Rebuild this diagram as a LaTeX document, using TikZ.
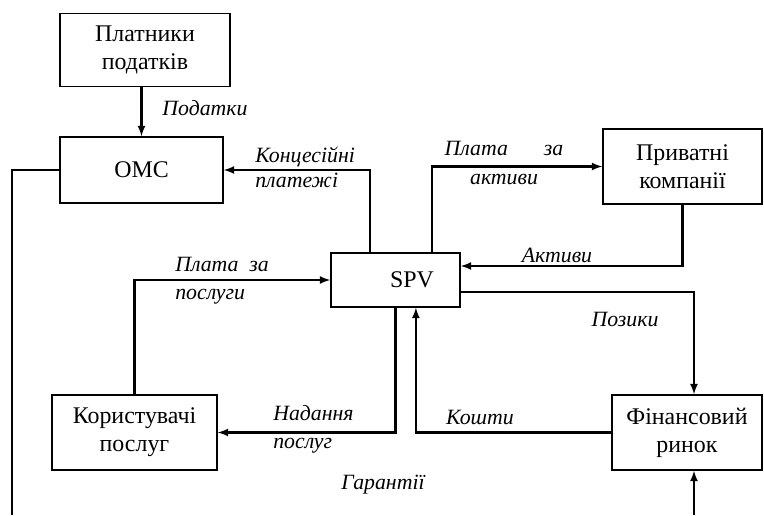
\documentclass[tikz,border=0pt]{standalone}
\usepackage{fontspec}
\setmainfont{Liberation Serif}
\begin{document}
\begin{tikzpicture}[x=0.025cm,y=-0.025cm,>=latex,
  box/.style={draw,line width=1.1pt,align=center,inner sep=0pt,font=\fontsize{17}{20}\selectfont},
  link/.style={line width=1.5pt},
  lbl/.style={font=\fontsize{15.5}{20}\selectfont\itshape,inner sep=0pt}]
\useasboundingbox (0,0) rectangle (764,515);

\node[box,minimum width=4.25cm,minimum height=1.825cm] (payers) at (145,50) {Платники\\податків};
\node[box,minimum width=4.075cm,minimum height=1.65cm] (omc) at (141.5,170) {ОМС};
\node[box,minimum width=3.225cm,minimum height=1.35cm] (spv) at (395.5,280) {\hspace*{0.825cm}SPV};
\node[box,minimum width=3.975cm,minimum height=1.875cm] (private) at (682.5,166.5) {Приватні\\компанії};
\node[box,minimum width=4.125cm,minimum height=1.875cm] (users) at (134.5,432.5) {Користувачі\\послуг};
\node[box,minimum width=3.75cm,minimum height=1.875cm] (market) at (687,432.5) {Фінансовий\\ринок};

\coordinate (leftend) at (12,515);
\coordinate (bottomend) at (694,515);

\draw[link,->] (payers.south -| omc.north) -- (omc.north);
\draw[link] (omc.west) -| (leftend);
\draw[link,->] ([xshift=1cm]spv.north west) |- (omc.east);
\draw[link,->] ([xshift=2.55cm]spv.north west) |- (private.west);
\draw[link,->] (private.south) |- ([yshift=0.35cm]spv.east);
\draw[link,->] ([yshift=-0.3cm]spv.east) -| ([xshift=0.175cm]market.north);
\draw[link,->] (bottomend) -- (bottomend |- market.south);
\draw[link,->] (market.west) -| ([xshift=0.51cm]spv.south);
\draw[link,->] (spv.south) |- (users.east);
\draw[link,->] (users.north) |- (spv.west);

\node[lbl] (taxes) at (205,108) {Податки};
\node[lbl,align=left,anchor=west,font=\fontsize{15.5}{17.5}\selectfont\itshape] (concfees) at (255,167.5) {Концесійні\\платежі};
\node[lbl,align=center] (assetpay) at (504,163) {Плата\hspace{0.9cm}за\\активи};
\node[lbl] (assets) at (557,255) {Активи};
\node[lbl] (loans) at (625,319) {Позики};
\node[lbl,align=left,anchor=west] (servpay) at (175,281) {Плата\ \ за\\послуги};
\node[lbl,align=left,anchor=west] (servprov) at (273,429) {Надання\\послуг};
\node[lbl] (funds) at (480,417) {Кошти};
\node[lbl] (guarant) at (383,485) {Гарантії};
\end{tikzpicture}
\end{document}
